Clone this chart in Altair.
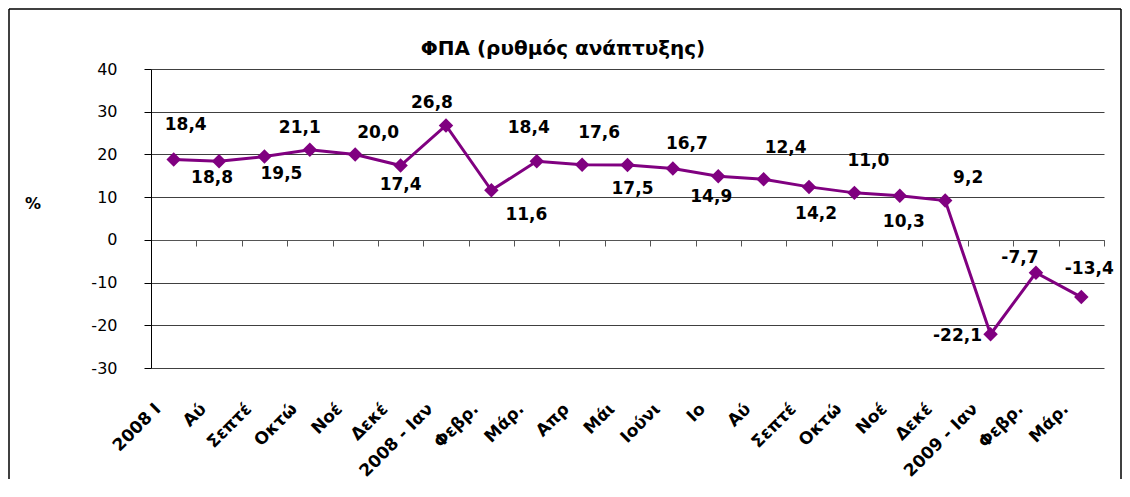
import json
import altair as alt
import pandas as pd

# ---- data ----
tick_labels = ["2008 Ι", "Αύ", "Σεπτέ", "Οκτώ", "Νοέ", "Δεκέ", "2008 - Ιαν",
               "Φεβρ.", "Μάρ.", "Απρ", "Μάι", "Ιούνι", "Ιο", "Αύ", "Σεπτέ",
               "Οκτώ", "Νοέ", "Δεκέ", "2009 - Ιαν", "Φεβρ.", "Μάρ."]
values = [18.8, 18.4, 19.5, 21.1, 20.0, 17.4, 26.8, 11.6, 18.4, 17.6, 17.5,
          16.7, 14.9, 14.2, 12.4, 11.0, 10.3, 9.2, -22.1, -7.7, -13.4]
value_labels = ["18,4", "18,8", "19,5", "21,1", "20,0", "17,4", "26,8", "11,6",
                "18,4", "17,6", "17,5", "16,7", "14,9", "12,4", "14,2", "11,0",
                "10,3", "9,2", "-22,1", "-7,7", "-13,4"]
title_text = "ΦΠΑ (ρυθμός ανάπτυξης)"
y_title = "%"

# ---- layout (label offsets in px: dx, dy) ----
label_offsets = [(12, -35), (-7, 17), (17, 17), (-10, -22), (23, -21), (0, 19),
                 (-14, -22), (35, 25), (-8, -33), (17, -32), (5, 24), (14, -25),
                 (-7, 21), (22, -31), (7, 27), (14, -32), (4, 26), (23, -23),
                 (-33, 2), (-16, -15), (8, -28)]

W, H = 953, 299
PURPLE = "#800080"
FONT = "DejaVu Sans"

df = pd.DataFrame({"idx": list(range(len(values))), "value": values, "label": value_labels})

label_expr = json.dumps(tick_labels, ensure_ascii=False) + "[datum.value]"

x_enc = alt.X("idx:O",
              scale=alt.Scale(type="band", paddingInner=0, paddingOuter=0),
              axis=alt.Axis(title=None, offset=-128, domainColor="#555555",
                            tickColor="#555555", tickSize=6, tickBand="extent",
                            labelAngle=-45, labelAlign="right", labelBaseline="middle",
                            labelOffset=-16, labelPadding=160, labelExpr=label_expr,
                            labelOverlap=False, labelFont=FONT, labelFontSize=17,
                            labelFontWeight="bold", labelColor="black", grid=False))
y_enc = alt.Y("value:Q",
              scale=alt.Scale(domain=[-30, 40], nice=False, zero=False),
              axis=alt.Axis(title=None, values=list(range(-30, 41, 10)),
                            labelExpr="'' + datum.value",
                            domainColor="black", tickColor="black", tickSize=7,
                            labelPadding=27, labelFont=FONT, labelFontSize=16,
                            labelColor="black", gridColor="#404040", gridWidth=1))

base = alt.Chart(df)

line = base.mark_line(color=PURPLE, strokeWidth=3).encode(x=x_enc, y=y_enc)
points = base.mark_point(shape="diamond", filled=True, size=210, color=PURPLE,
                         opacity=1).encode(x="idx:O", y="value:Q")

label_layers = []
for i, (dx, dy) in enumerate(label_offsets):
    label_layers.append(
        base.transform_filter(alt.datum.idx == i)
        .mark_text(dx=dx, dy=dy, font=FONT, fontSize=17, fontWeight="bold",
                   color="black", align="center", baseline="middle")
        .encode(x="idx:O", y="value:Q", text="label:N")
    )

one = alt.Chart(pd.DataFrame({"a": [0]}))
title = one.mark_text(font=FONT, fontSize=20, fontWeight="bold", color="black",
                      align="center", baseline="middle").encode(
    x=alt.value(412), y=alt.value(-20), text=alt.value(title_text))
ytitle = one.mark_text(font=FONT, fontSize=16, fontWeight="bold", color="black",
                       align="center", baseline="middle").encode(
    x=alt.value(-118), y=alt.value(135), text=alt.value(y_title))

frame_top = one.mark_rule(color="black", strokeWidth=1.5).encode(
    x=alt.value(-142), x2=alt.value(970), y=alt.value(-60))
frame_left = one.mark_rule(color="black", strokeWidth=1.5).encode(
    x=alt.value(-142), y=alt.value(-60), y2=alt.value(410))
frame_right = one.mark_rule(color="black", strokeWidth=1.5).encode(
    x=alt.value(970), y=alt.value(-60), y2=alt.value(410))

chart = alt.layer(line, points, *label_layers, title, ytitle,
                  frame_top, frame_left, frame_right).properties(
    width=W, height=H, padding=0, background="white"
).configure_view(stroke=None)

chart.save("out.html", embed_options={"renderer": "svg", "actions": False})
